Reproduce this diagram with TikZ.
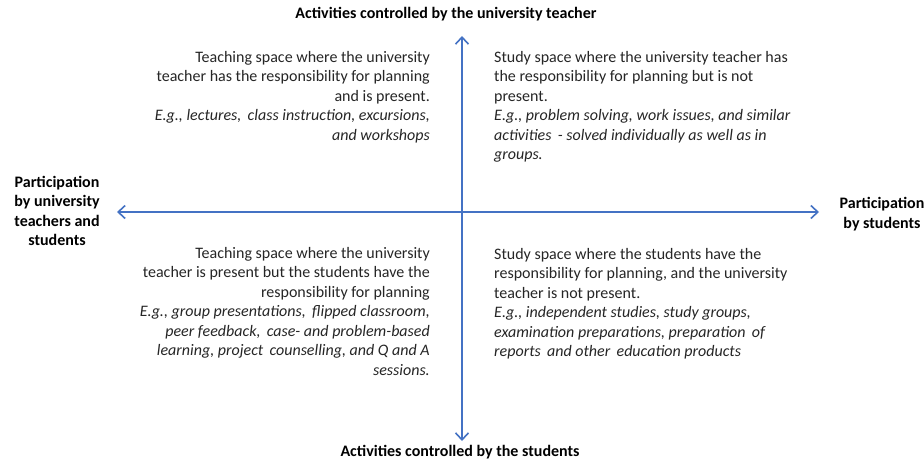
\documentclass[tikz,border=0pt]{standalone}
\usepackage{fontspec}
\setmainfont{Carlito}
\usetikzlibrary{arrows.meta, positioning}
\definecolor{axBlue}{HTML}{4472C4}
\definecolor{txGray}{HTML}{262626}
\tikzset{
  qtext/.style={inner sep=0pt, text=txGray, font=\fontsize{16}{19.5}\selectfont},
  qleft/.style={qtext, align=right, anchor=north east},
  qright/.style={qtext, align=left, anchor=north west},
  axislabel/.style={inner sep=0pt, align=center, text=black,
    font=\fontsize{16}{19.5}\selectfont\bfseries},
  axisarrow/.style={{Straight Barb[length=7pt, width=13pt, line width=1.6pt]}-{Straight Barb[length=7pt, width=13pt, line width=1.6pt]},
    line width=1.6pt, axBlue}
}
\begin{document}
\begin{tikzpicture}[x=1pt, y=-1pt]
  \useasboundingbox[fill=white] (0,0) rectangle (924,463);

  % axis end points
  \coordinate (top) at (462,36);
  \coordinate (bottom) at (462,441);
  \coordinate (left) at (117,212);
  \coordinate (right) at (819,212);
  \draw[axisarrow] (top) -- (bottom);
  \draw[axisarrow] (left) -- (right);

  % axis labels
  \node[axislabel] (lbltop) at (446,14) {Activities controlled by the university teacher};
  \node[axislabel] (lblbottom) at (460,452) {Activities controlled by the students};
  \node[axislabel] (lblleft) at (57,211) {Participation\\by university\\teachers and\\students};
  \node[axislabel] (lblright) at (882,214) {Participation\\by students};

  % quadrants
  \node[qleft] (teachlead) at (430,51) {Teaching space where the university\\
    teacher has the responsibility for planning\\
    and is present.\\
    \itshape E.g., lectures,\, class instruction, excursions,\\
    \itshape and workshops};
  \node[qright] (studylead) at (494,51) {Study space where the university teacher has\\
    the responsibility for planning but is not\\
    present.\\
    \itshape E.g., problem solving, work issues, and similar\\
    \itshape activities\, - solved individually as well as in\\
    \itshape groups.};
  \node[qleft] (teachstud) at (430,247) {Teaching space where the university\\
    teacher is present but the students have the\\
    responsibility for planning\\
    \itshape E.g., group presentations,\, flipped classroom,\\
    \itshape peer feedback,\, case- and problem-based\\
    \itshape learning, project\, counselling, and Q and A\\
    \itshape sessions.};
  \node[qright] (studstud) at (494,248) {Study space where the students have the\\
    responsibility for planning, and the university\\
    teacher is not present.\\
    \itshape E.g., independent studies, study groups,\\
    \itshape examination preparations, preparation\, of\\
    \itshape reports\, and other\, education products};
\end{tikzpicture}
\end{document}
